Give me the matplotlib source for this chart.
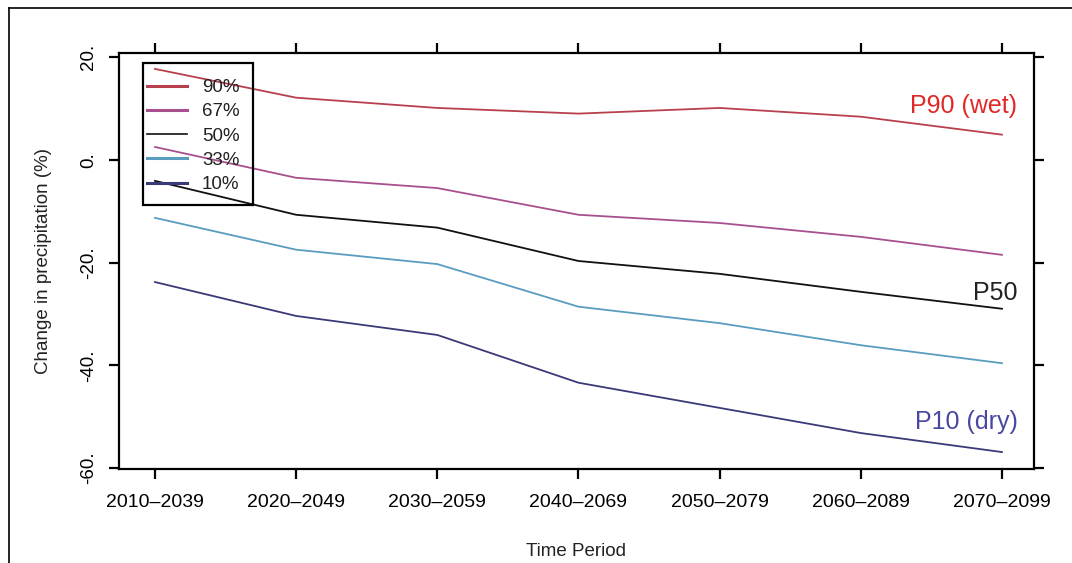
import matplotlib
matplotlib.use("Agg")
import matplotlib.pyplot as plt
from matplotlib.lines import Line2D
from matplotlib.patches import Rectangle

plt.rcParams['font.family'] = ['Liberation Sans', 'DejaVu Sans']

periods = ["2010\u20132039", "2020\u20132049", "2030\u20132059", "2040\u20132069",
           "2050\u20132079", "2060\u20132089", "2070\u20132099"]
p90 = [17.7, 12.1, 10.1, 9.0, 10.1, 8.4, 4.9]
p67 = [2.5, -3.5, -5.5, -10.7, -12.3, -15.0, -18.5]
p50 = [-4.1, -10.7, -13.2, -19.7, -22.2, -25.7, -29.0]
p33 = [-11.3, -17.5, -20.3, -28.6, -31.8, -36.1, -39.6]
p10 = [-23.8, -30.4, -34.1, -43.4, -48.3, -53.2, -56.9]
yticks = [20, 0, -20, -40, -60]
ytick_labels = ["20.", "0.", "-20.", "-40.", "-60."]
legend_labels = ["90%", "67%", "50%", "33%", "10%"]

colors = ["#b8404c", "#a8508e", "#111111", "#5a9cc0", "#3a3a78"]

W, H = 1072, 563
fig = plt.figure(figsize=(W/100, H/100), dpi=100)
AX_L, AX_R, AX_T, AX_B = 119, 1034, 53, 469
ax = fig.add_axes([AX_L/W, 1-AX_B/H, (AX_R-AX_L)/W, (AX_B-AX_T)/H])

def afx(px):
    return (px-AX_L)/(AX_R-AX_L)

def afy(py):
    return (AX_B-py)/(AX_B-AX_T)

x = list(range(len(periods)))
series = [p90, p67, p50, p33, p10]
for s, c in zip(series, colors):
    ax.plot(x, s, color=c, lw=1.3)

ax.set_xlim(-0.255, 6.227)
ax.set_ylim(-60.2, 20.8)
ax.set_xticks(x)
ax.set_xticklabels(periods, fontsize=14)
ax.set_yticks(yticks)
ax.set_yticklabels(ytick_labels, fontsize=13.5, rotation=90, va='center')
ax.tick_params(axis='both', direction='out', length=7, width=1.6, color='black',
               top=True, right=True, labeltop=False, labelright=False)
ax.tick_params(axis='x', pad=11)
ax.tick_params(axis='y', pad=9)
for sp in ax.spines.values():
    sp.set_linewidth(1.6)
ax.set_xlabel("Time Period", fontsize=13.5, labelpad=23, color='#222222')
ax.set_ylabel("Change in precipitation (%)", fontsize=13.5, labelpad=20, color='#222222')

handles = [Line2D([0], [0], color=c, lw=2.2 if i != 2 else 1.2)
           for i, c in enumerate(colors)]
leg = ax.legend(handles, legend_labels, loc='upper left',
                bbox_to_anchor=(afx(147), afy(79)),
                borderaxespad=0, borderpad=0, fontsize=13.5, handlelength=2.15,
                handletextpad=0.78, labelspacing=0.38, frameon=False)
for t in leg.get_texts():
    t.set_color('#222222')
ax.add_patch(Rectangle((afx(143), afy(205)), afx(253)-afx(143), afy(63)-afy(205),
                       transform=ax.transAxes, fill=False, edgecolor='black',
                       lw=1.6, zorder=5))

ax.text(6.11, 10.5, "P90 (wet)", color="#e02828", fontsize=18, ha='right', va='center')
ax.text(6.11, -25.9, "P50", color="#222222", fontsize=18, ha='right', va='center')
ax.text(6.11, -51.0, "P10 (dry)", color="#4848a0", fontsize=18, ha='right', va='center')

# outer frame (left and top edges visible)
fig.add_artist(Line2D([9/W, 9/W], [0, 1-8/H], transform=fig.transFigure,
                      color='black', lw=1.2))
fig.add_artist(Line2D([9/W, 1], [1-8/H, 1-8/H], transform=fig.transFigure,
                      color='black', lw=1.2))

fig.savefig("out.png", dpi=100)
